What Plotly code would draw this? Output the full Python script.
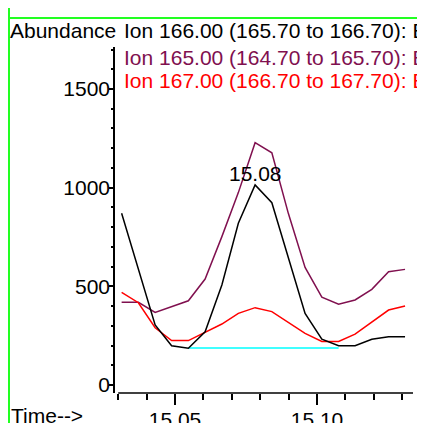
import plotly.graph_objects as go

# Retention time (min) of each scan
times = [15.0312, 15.0371, 15.0430, 15.0488, 15.0547, 15.0606, 15.0665, 15.0723, 15.0782,
         15.0841, 15.0899, 15.0958, 15.1017, 15.1076, 15.1134, 15.1193, 15.1252, 15.1310]

# Abundance traces
ion166 = [870, 588, 304, 199, 186, 270, 507, 820, 1014, 924, 644, 363, 232, 199, 199, 232, 245, 245]
ion165 = [419, 419, 368, 397, 427, 537, 752, 975, 1228, 1177, 870, 596, 445, 409, 431, 485, 574, 586]
ion167 = [470, 417, 290, 225, 225, 267, 309, 363, 392, 372, 316, 262, 221, 221, 258, 321, 380, 400]

# Integration baseline
base_t = [15.0547, 15.1076]
base_v = [187, 187]

peak_label = "15.08"
peak_t = 15.0782
peak_v = 1014

legend_texts = ["Ion 166.00 (165.70 to 166.70): B",
                "Ion 165.00 (164.70 to 165.70): B",
                "Ion 167.00 (166.70 to 167.70): B"]

C_BLACK = "#000000"
C_PURPLE = "#80104F"
C_RED = "#FF0000"
C_CYAN = "#00FFFF"
C_GREEN = "#22FF22"
FONT = "Liberation Sans, Arial, sans-serif"

OFF = 8  # page offset of the figure inside the browser window
W, H = 425, 423
L, T = 115 - OFF, 47 - OFF
R, B = W - (413 - OFF), H - (393 - OFF)
PW = W - L - R
PH = H - T - B


def px(xs):
    """screen x pixel -> paper x"""
    return (xs - OFF - L) / PW


def py(ys):
    """screen y pixel -> paper y"""
    return (H - B - (ys - OFF)) / PH


fig = go.Figure()
fig.add_trace(go.Scatter(x=base_t, y=base_v, mode="lines", line=dict(color=C_CYAN, width=1.5)))
fig.add_trace(go.Scatter(x=times, y=ion165, mode="lines", line=dict(color=C_PURPLE, width=1.5)))
fig.add_trace(go.Scatter(x=times, y=ion167, mode="lines", line=dict(color=C_RED, width=1.5)))
fig.add_trace(go.Scatter(x=times, y=ion166, mode="lines", line=dict(color=C_BLACK, width=1.5)))

annotations = [
    dict(text="Abundance", xref="paper", yref="paper", x=px(8), y=py(30.5),
         xanchor="left", yanchor="middle", showarrow=False,
         font=dict(size=21, color=C_BLACK, family=FONT)),
    dict(text="Time-->", xref="paper", yref="paper", x=px(9), y=py(415.5),
         xanchor="left", yanchor="middle", showarrow=False,
         font=dict(size=21, color=C_BLACK, family=FONT)),
    dict(text=peak_label, xref="x", yref="y", x=peak_t, y=peak_v, yshift=11,
         xanchor="center", yanchor="middle", showarrow=False,
         font=dict(size=21, color=C_BLACK, family=FONT)),
]
for txt, col, yc in zip(legend_texts, [C_BLACK, C_PURPLE, C_RED], [30.5, 57, 80.5]):
    annotations.append(dict(text=txt, xref="paper", yref="paper", x=px(122), y=py(yc),
                            xanchor="left", yanchor="middle", showarrow=False,
                            font=dict(size=21, color=col, family=FONT)))

shapes = [
    dict(type="line", xref="paper", yref="paper", x0=px(9), x1=px(9), y0=py(OFF), y1=py(H + OFF),
         line=dict(color=C_GREEN, width=2)),
    dict(type="line", xref="paper", yref="paper", x0=px(422), x1=px(422), y0=py(OFF), y1=py(H + OFF),
         line=dict(color=C_GREEN, width=2)),
    dict(type="line", xref="paper", yref="paper", x0=px(9), x1=px(422), y0=py(18), y1=py(18),
         line=dict(color=C_GREEN, width=2)),
    # x axis line starting at first tick
    dict(type="line", xref="x", yref="paper", x0=15.03, x1=15.1338, y0=0, y1=0,
         line=dict(color=C_BLACK, width=1.5)),
]

fig.update_layout(
    width=W, height=H,
    margin=dict(l=L, r=R, t=T, b=B, pad=0, autoexpand=False),
    paper_bgcolor="white", plot_bgcolor="white",
    showlegend=False,
    annotations=annotations,
    shapes=shapes,
    font=dict(family=FONT, size=21, color=C_BLACK),
    xaxis=dict(range=[15.02887, 15.1338], showgrid=False, zeroline=False, showline=False,
               automargin=False, ticklabelstandoff=-3,
               tick0=15.0, dtick=0.05, ticks="outside", ticklen=11, tickwidth=1.5,
               tickcolor=C_BLACK, tickformat=".2f",
               tickfont=dict(size=21, family=FONT, color=C_BLACK),
               minor=dict(dtick=0.01, tick0=15.0, ticks="outside", ticklen=6, tickwidth=1.5,
                          tickcolor=C_BLACK, showgrid=False)),
    yaxis=dict(range=[-40.5, 1713], showgrid=False, zeroline=False, showline=True,
               automargin=False, ticklabelstandoff=-5,
               linecolor=C_BLACK, linewidth=1.5,
               tick0=0, dtick=500, ticks="outside", ticklen=4, tickwidth=1.5,
               tickcolor=C_BLACK,
               tickfont=dict(size=21, family=FONT, color=C_BLACK),
               minor=dict(dtick=100, tick0=0, ticks="outside", ticklen=2, tickwidth=1.5,
                          tickcolor=C_BLACK, showgrid=False)),
)

fig.write_html("out.html")
